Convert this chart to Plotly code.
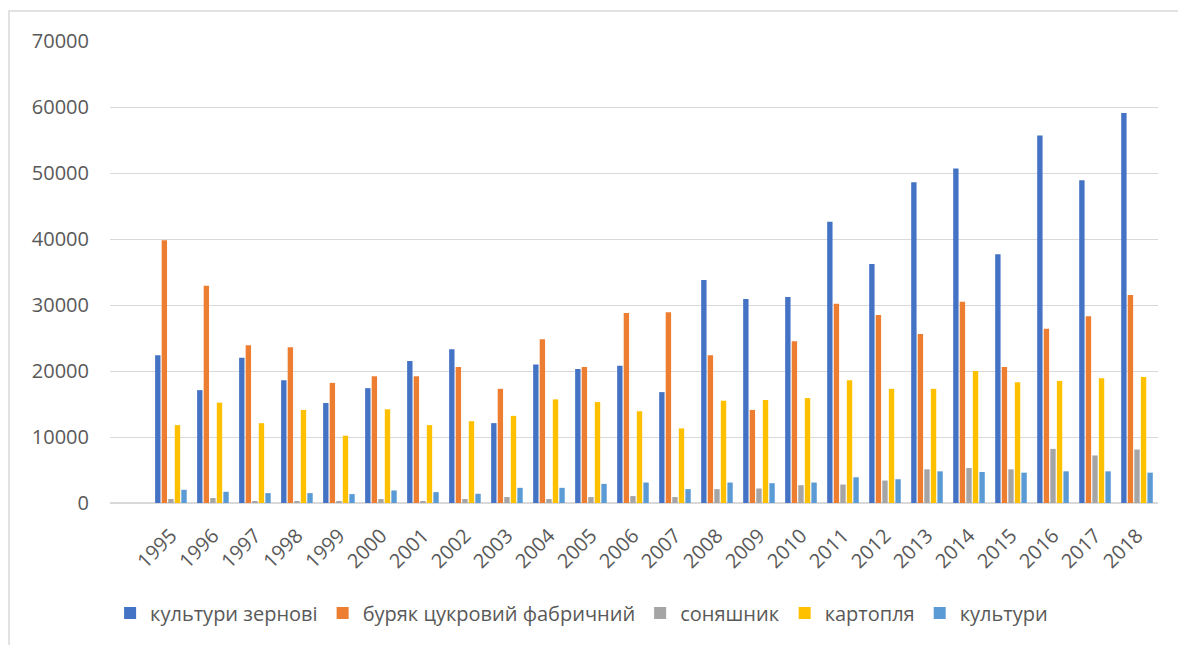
import plotly.graph_objects as go

years = [str(y) for y in range(1995, 2019)]

grain = [22400, 17100, 22000, 18600, 15150, 17400, 21500, 23300, 12100, 21000, 20300, 20800,
         16800, 33800, 30900, 31200, 42600, 36200, 48600, 50700, 37700, 55700, 48900, 59100]
beet = [39800, 32900, 23900, 23600, 18200, 19200, 19200, 20600, 17300, 24800, 20600, 28800,
        28900, 22400, 14100, 24500, 30200, 28500, 25600, 30500, 20600, 26400, 28300, 31500]
sunflower = [600, 750, 300, 200, 300, 600, 300, 600, 900, 600, 900, 1050,
             900, 2100, 2200, 2700, 2800, 3400, 5100, 5300, 5100, 8200, 7200, 8100]
potato = [11800, 15200, 12100, 14100, 10200, 14200, 11800, 12400, 13200, 15700, 15300, 13900,
          11300, 15500, 15600, 15900, 18600, 17300, 17300, 20000, 18300, 18500, 18900, 19100]
other = [2000, 1700, 1500, 1500, 1350, 1900, 1650, 1400, 2300, 2300, 2900, 3100,
         2100, 3100, 3000, 3100, 3900, 3600, 4800, 4700, 4600, 4800, 4800, 4600]

names = ["культури зернові", "буряк цукровий фабричний", "соняшник", "картопля", "культури"]
colors = ["#4472C4", "#ED7D31", "#A5A5A5", "#FFC000", "#5B9BD5"]
series = [grain, beet, sunflower, potato, other]

fig = go.Figure()
for n, c, s in zip(names, colors, series):
    fig.add_trace(go.Bar(x=years, y=s, name=n, marker=dict(color=c, line=dict(width=0))))

font_family = "Open Sans"
fig.update_layout(
    width=1178, height=645,
    margin=dict(l=110, r=20, t=41, b=142),
    paper_bgcolor="white", plot_bgcolor="white",
    barmode="group", bargap=0.22, bargroupgap=0.18,
    font=dict(family=font_family, color="#595959", size=20),
    showlegend=True,
    legend=dict(orientation="h", x=0.45, xanchor="center", y=-0.238, yanchor="middle",
                font=dict(size=20, color="#595959"), itemwidth=30, traceorder="normal"),
    xaxis=dict(type="category", range=[-1.45, 23.5], tickangle=-45, showgrid=False,
               showline=False, ticks="", tickfont=dict(size=20, color="#595959"),
               ticklabelstandoff=16),
    yaxis=dict(range=[0, 70000], dtick=10000, showgrid=True, gridcolor="#D9D9D9", gridwidth=1,
               zeroline=True, zerolinecolor="#D9D9D9", zerolinewidth=2, showline=False,
               ticks="", tickformat="d", tickfont=dict(size=20, color="#595959"),
               ticklabelstandoff=20),
    shapes=[dict(type="rect", xref="paper", yref="paper",
                 x0=(9 - 110) / 1048, x1=1.2, y0=-0.5, y1=(503 - 11) / 462,
                 line=dict(color="#D9D9D9", width=1.5), fillcolor="rgba(0,0,0,0)", layer="below")],
)

fig.write_html("out.html")
